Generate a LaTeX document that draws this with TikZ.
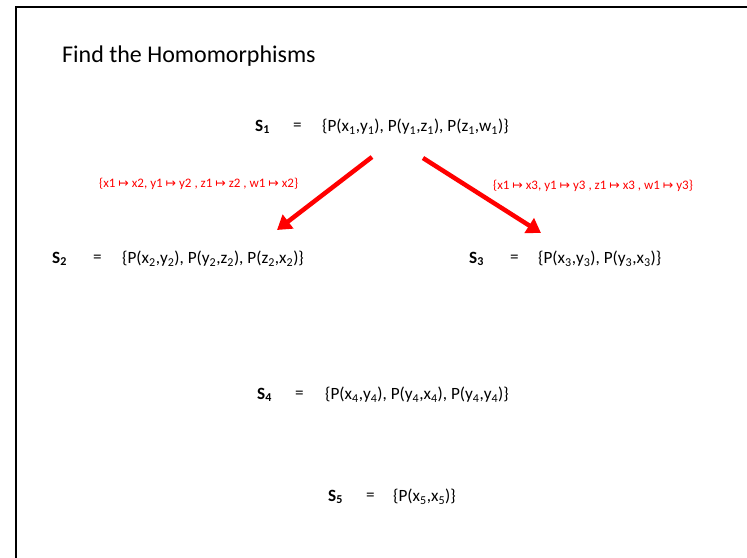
\documentclass[tikz,border=0pt]{standalone}
\usepackage{fontspec}
\setmainfont{Carlito}
\newfontfamily\symfont{DejaVu Sans}
\usetikzlibrary{arrows.meta}
\newcommand{\mto}{{\symfont\fontsize{12.5}{12.5}\selectfont ↦}}
\tikzset{
  eqtext/.style={anchor=west, inner sep=0pt, font=\fontsize{17.2}{20}\selectfont},
  setname/.style={anchor=west, inner sep=0pt, font=\fontsize{17.2}{20}\selectfont\bfseries},
  maplabel/.style={anchor=west, inner sep=0pt, text=red, font=\fontsize{13}{15}\selectfont},
  maparrow/.style={draw=red, line width=4.5pt, -{Triangle[width=17pt,length=14pt]}}
}
\begin{document}
\begin{tikzpicture}[x=1pt,y=-1pt]
\useasboundingbox (0,0) rectangle (747,557);
\draw[line width=2.5pt] (16,600) -- (16,7) -- (760,7);
\node[anchor=base west, inner sep=0pt, font=\fontsize{24}{28}\selectfont] (title) at (62,62) {Find the Homomorphisms};

\node[setname] (s1) at (255,127) {S\textsubscript{1}};
\node[eqtext] (e1) at (293,127) {=};
\node[eqtext] (p1) at (322,127) {\{P(x\textsubscript{1},y\textsubscript{1}), P(y\textsubscript{1},z\textsubscript{1}), P(z\textsubscript{1},w\textsubscript{1})\}};

\node[setname] (s2) at (52,259) {S\textsubscript{2}};
\node[eqtext] (e2) at (93,259) {=};
\node[eqtext] (p2) at (122,259) {\{P(x\textsubscript{2},y\textsubscript{2}), P(y\textsubscript{2},z\textsubscript{2}), P(z\textsubscript{2},x\textsubscript{2})\}};

\node[setname] (s3) at (469,259) {S\textsubscript{3}};
\node[eqtext] (e3) at (510,259) {=};
\node[eqtext] (p3) at (538,259) {\{P(x\textsubscript{3},y\textsubscript{3}), P(y\textsubscript{3},x\textsubscript{3})\}};

\node[setname] (s4) at (257,395) {S\textsubscript{4}};
\node[eqtext] (e4) at (295,395) {=};
\node[eqtext] (p4) at (325,395) {\{P(x\textsubscript{4},y\textsubscript{4}), P(y\textsubscript{4},x\textsubscript{4}), P(y\textsubscript{4},y\textsubscript{4})\}};

\node[setname] (s5) at (328,497) {S\textsubscript{5}};
\node[eqtext] (e5) at (366,497) {=};
\node[eqtext] (p5) at (393,497) {\{P(x\textsubscript{5},x\textsubscript{5})\}};

\node[maplabel] (m2) at (99,184) {\{x1 \mto{} x2, y1 \mto{} y2 , z1 \mto{} z2 , w1 \mto{} x2\}};
\node[maplabel] (m3) at (493,186) {\{x1 \mto{} x3, y1 \mto{} y3 , z1 \mto{} x3 , w1 \mto{} y3\}};

\coordinate (a2s) at (372,157);
\coordinate (a2e) at (277,230);
\coordinate (a3s) at (423,158);
\coordinate (a3e) at (541,233);
\draw[maparrow] (a2s) -- (a2e);
\draw[maparrow] (a3s) -- (a3e);
\end{tikzpicture}
\end{document}
